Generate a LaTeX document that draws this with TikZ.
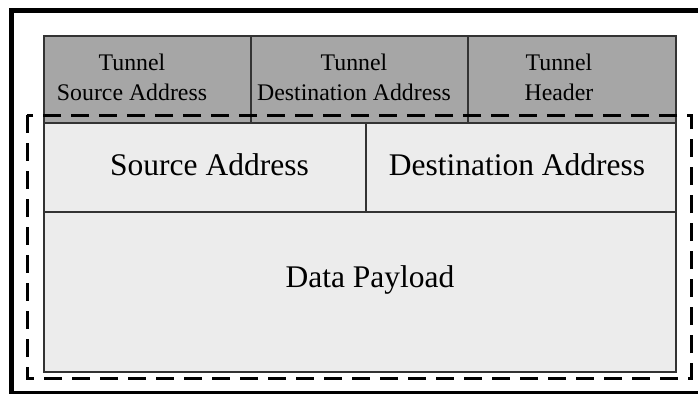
\documentclass[tikz,border=0pt]{standalone}
\usepackage{fontspec}
\setmainfont{Liberation Serif}
\definecolor{hdrgray}{HTML}{A6A6A6}
\definecolor{bodygray}{HTML}{ECECEC}
\definecolor{edgegray}{HTML}{333333}
\begin{document}
\begin{tikzpicture}[x=1pt,y=-1pt,
  cell/.style={draw=edgegray,line width=1.5pt,inner sep=0pt,anchor=north west},
  hdrcell/.style={cell,fill=hdrgray},
  bodycell/.style={cell,fill=bodygray},
  smalltext/.style={align=center,inner sep=0pt,font=\fontsize{23.8}{29.3}\selectfont},
  bigtext/.style={anchor=base,inner sep=0pt,font=\fontsize{31.5}{36}\selectfont},
  framebar/.style={fill=black},
  tunnelframe/.style={draw=black,line width=3pt,dash pattern=on 18pt off 10pt}]
\useasboundingbox (0,0) rectangle (698,394);
\fill[white] (0,0) rectangle (698,394);
% outer frame of the packet: top, left and bottom bars, open to the right
\fill[framebar] (8.5,8) rectangle (698,13);
\fill[framebar] (8.5,8) rectangle (13.5,394);
\fill[framebar] (8.5,390.5) rectangle (698,394);
% tunnel header fields
\node[hdrcell,minimum width=207pt,minimum height=87pt] (tsa) at (43,35) {};
\node[hdrcell,minimum width=217pt,minimum height=87pt] (tda) at (250,35) {};
\node[hdrcell,minimum width=208pt,minimum height=87pt] (th)  at (467,35) {};
% inner packet fields
\node[bodycell,minimum width=322pt,minimum height=89pt] (sa) at (43,122) {};
\node[bodycell,minimum width=310pt,minimum height=89pt] (da) at (365,122) {};
\node[bodycell,minimum width=632pt,minimum height=160pt] (dp) at (43,211) {};
% field labels
\node[smalltext] (tsal) at (132,77.3) {Tunnel\\Source Address};
\node[smalltext] (tdal) at (354,77.3) {Tunnel\\Destination Address};
\node[smalltext] (thl)  at (559,77.3) {Tunnel\\Header};
\node[bigtext] (sal) at (209.5,175.5) {Source Address};
\node[bigtext] (dal) at (517,175.5) {Destination Address};
\node[bigtext] (dpl) at (370,287.3) {Data Payload};
% original packet carried inside the tunnel
\draw[tunnelframe] (27,115) rectangle (691,378);
\end{tikzpicture}
\end{document}
